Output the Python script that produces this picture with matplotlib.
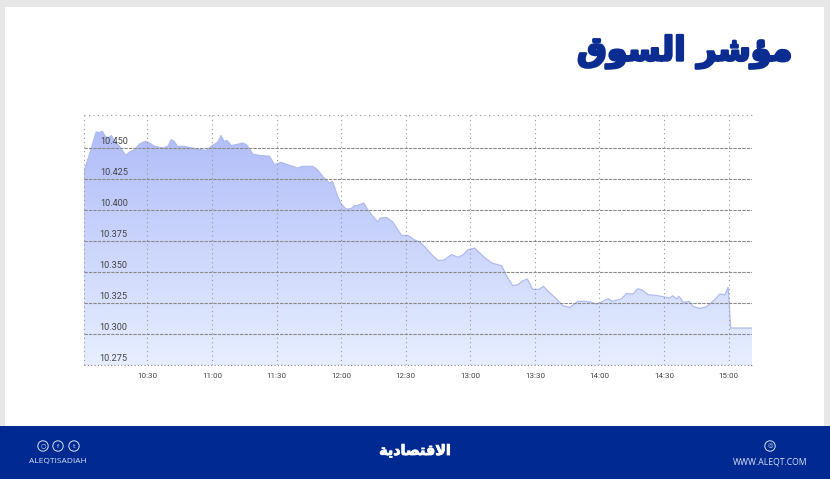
import numpy as np
import matplotlib
matplotlib.use("Agg")
import matplotlib.pyplot as plt
import matplotlib.patheffects as pe
from matplotlib.patches import Rectangle, Circle
from matplotlib.transforms import ScaledTranslation

minutes = [0.5,1.5,3,4.6,6.2,7.7,9,10.4,11.6,13.2,14.7,17,20,21.7,24,26.3,29,31,33.3,37.2,39.5,41,42.3,44,47.2,50.3,
           57.3,59.6,62.7,64.2,65.5,67,68.9,72,74.3,76,79,82,86.7,89,92,94.4,99.8,102,106.8,109,112,114.6,116,118.4,
           120,122.3,124.7,126,127.4,130.5,132.4,134.7,137,138.2,141,144,148,151,154,156.6,159,162,165,167.5,171.3,
           174.4,176.7,179,182,186,190,194.6,197,199.7,202,204.6,206.5,209,212,214,217,220,223,226.3,230,233,236,238.7,
           244,246,250.3,252.6,255.7,257.7,259.6,262.7,266.5,272.7,274,275.8,277,279,281.7,283.6,286.7,289.8,293,296,
           298.3,299.8,301,310.9]
index_values = [10.431,10.4366,10.4446,10.454,10.463,10.4624,10.4635,10.4594,10.458,10.460,10.4554,10.4513,10.444,10.4468,
                10.4487,10.4532,10.4554,10.454,10.4513,10.450,10.4513,10.4567,10.4554,10.4513,10.4513,10.450,
                10.448,10.4513,10.4548,10.460,10.4554,10.456,10.452,10.453,10.454,10.4527,10.445,10.444,10.4433,10.4366,
                10.4384,10.437,10.4339,10.4352,10.4352,10.4325,10.4258,10.4218,10.4231,10.411,
                10.4048,10.4008,10.401,10.4035,10.4035,10.4056,10.400,10.3949,10.3903,10.3935,10.394,10.3903,10.3795,10.3795,
                10.376,10.3741,10.370,10.364,10.3594,10.3594,10.364,
                10.3618,10.364,10.368,10.3693,10.3626,10.3572,10.355,10.3464,10.339,10.3397,10.343,10.3443,10.336,10.336,10.3384,
                10.333,10.3284,10.3228,10.3214,10.3263,10.3263,10.3257,10.3241,
                10.3284,10.3263,10.3284,10.3327,10.3322,10.3365,10.3357,10.3316,10.3311,10.329,10.3308,10.3284,10.3303,10.3255,
                10.3263,10.3222,10.3206,10.322,10.3268,10.3322,
                10.3316,10.3376,10.3048,10.3048]
y_ticks = [10.275,10.300,10.325,10.350,10.375,10.400,10.425,10.450]
y_labels = ["10.275","10.300","10.325","10.350","10.375","10.400","10.425","10.450"]
x_ticks = [30,60,90,120,150,180,210,240,270,300]
x_labels = ["10:30","11:00","11:30","12:00","12:30","13:00","13:30","14:00","14:30","15:00"]
title_text = "\uFED5\uFEEE\uFEB4\uFEDF\uFE8D \uFEAE\uFEB7\uFE86\uFEE3"
logo_text = "\uFE94\uFEF3\uFEA9\uFE8E\uFEBC\uFE98\uFED7\uFEFB\uFE8D"
left_handle = "ALEQTISADIAH"
right_site = "WWW.ALEQT.COM"

W, H = 830, 479
NAVY = "#002a92"
fig = plt.figure(figsize=(W/100, H/100), dpi=100, facecolor="#e7e7e7")

bg = fig.add_axes([0, 0, 1, 1])
bg.set_xlim(0, W); bg.set_ylim(H, 0); bg.axis("off")
bg.add_patch(Rectangle((5, 7), 819, 420, fc="white", ec="none"))
bg.add_patch(Rectangle((0, 426), W, 53, fc=NAVY, ec="none"))
bg.text(685, 52, title_text, color="#0b2c91", fontsize=24, fontweight="bold", ha="center", va="center",
        family="DejaVu Sans", path_effects=[pe.withStroke(linewidth=1.8, foreground="#0b2c91")])
bg.text(415, 451, logo_text, color="white", fontsize=10.3, fontweight="bold", ha="center", va="center",
        family="DejaVu Sans", path_effects=[pe.withStroke(linewidth=0.6, foreground="white")])
bg.text(58, 462, left_handle, color="#d8e0f5", fontsize=6, ha="center", va="center", family="Open Sans")
bg.text(770, 462, right_site, color="#d8e0f5", fontsize=6.2, ha="center", va="center", family="Open Sans")
for cx, g in [(43, "\u25CB"), (58, "f"), (74, "t"), (770, "\u25CE")]:
    bg.add_patch(Circle((cx, 446), 5.2, fc="none", ec="#d8e0f5", lw=0.7))
    bg.text(cx, 446, g, color="#d8e0f5", fontsize=4.5, ha="center", va="center")

ax = fig.add_axes([84/W, 1-365/H, (752-84)/W, (365-115)/H])
ax.patch.set_alpha(0)
ax.set_xlim(0.5, 310.9)
ax.set_ylim(10.275, 10.4766)
for s in ax.spines.values():
    s.set_visible(False)

# area with vertical gradient clipped to the series polygon
poly = ax.fill_between(minutes, index_values, 10.275, color="none", lw=0)
grad = np.linspace(0, 1, 256).reshape(-1, 1, 1)
top = np.array([0.69, 0.74, 0.975]); bot = np.array([0.905, 0.935, 1.0])
img = top + (bot - top) * grad
im = ax.imshow(img, extent=(0.5, 310.9, 10.275, 10.465), aspect="auto", origin="upper", zorder=1)
im.set_clip_path(poly.get_paths()[0], transform=ax.transData)
ax.set_xlim(0.5, 310.9); ax.set_ylim(10.275, 10.4766)
ax.plot(minutes, index_values, color="#b0bcf0", lw=0.9, zorder=2)

ax.set_axisbelow(False)
ax.set_yticks(y_ticks, y_labels)
ax.set_xticks(x_ticks, x_labels)
ax.tick_params(axis="y", length=0, pad=-31.5, labelsize=6.6, labelcolor="#444444")
ax.tick_params(axis="x", length=0, pad=5.6, labelsize=5.8, labelcolor="#444444")
for lab in ax.get_xticklabels() + ax.get_yticklabels():
    lab.set_family("Roboto")
off = ScaledTranslation(0, 2.2/100, fig.dpi_scale_trans)
for t in ax.yaxis.get_major_ticks():
    t.label1.set_va("bottom")
    t.label1.set_transform(t.label1.get_transform() + off)
    t.label1.set_zorder(6)
ax.grid(axis="y", color="#8a8a8a", lw=0.8, ls=(0, (3, 1)), zorder=3)
ax.grid(axis="x", color="#9a9a9a", lw=0.8, ls=(0, (1, 3)), zorder=3)
ax.axhline(10.4766, color="#9a9a9a", lw=0.8, ls=(0, (1, 3)), zorder=3, clip_on=False)
ax.axvline(0.5, color="#9a9a9a", lw=0.8, ls=(0, (1, 3)), zorder=3, clip_on=False)
ax.axhline(10.275, color="#8a8a8a", lw=0.8, ls=(0, (1, 2)), zorder=3, clip_on=False)

fig.savefig("out.png", dpi=100, facecolor=fig.get_facecolor())
